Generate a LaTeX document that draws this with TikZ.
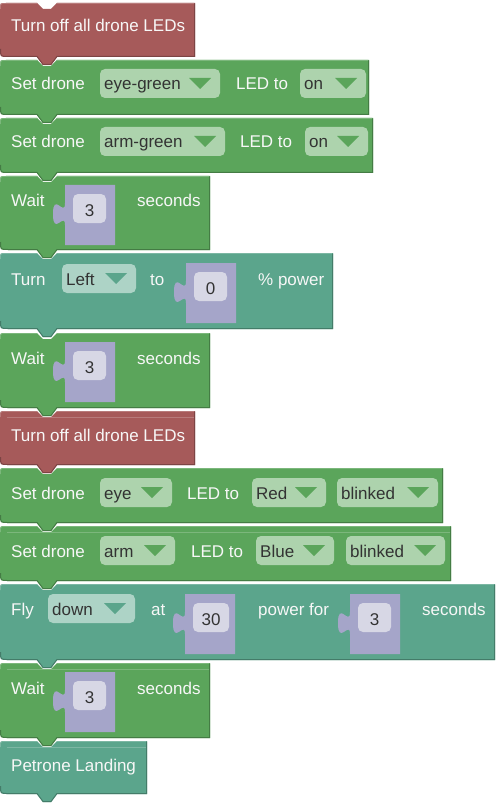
\documentclass[tikz,border=0pt]{standalone}
\usepackage{fontspec}
\newfontfamily\blkfamily{Liberation Sans}
\newcommand\blkfont{\blkfamily\fontsize{17}{20}\selectfont}

\definecolor{blkred}{HTML}{A65A5A}
\definecolor{blkgreen}{HTML}{5BA55B}
\definecolor{blkteal}{HTML}{5BA58C}
\definecolor{ddgreen}{HTML}{ADD3AD}
\definecolor{ddteal}{HTML}{ADD3C6}
\definecolor{sockcol}{HTML}{A5A5C9}
\definecolor{innercol}{HTML}{D7D7E5}
\definecolor{fieldtext}{HTML}{333333}
\definecolor{lbltext}{HTML}{F7F7F7}

\tikzset{
  lbl/.style={text=lbltext, inner sep=0pt, anchor=base west, font=\blkfont},
  fld/.style={text=fieldtext, inner sep=0pt, anchor=base west, font=\blkfont},
  num/.style={text=fieldtext, inner sep=0pt, anchor=base, font=\blkfont},
}

% statement block: #1 colour, #2 top, #3 bottom, #4 right edge
\newcommand\stmt[4]{%
  \fill[#1] (0,#2+6) .. controls (0,#2) .. (6,#2) -- (37,#2) -- (43,#2+6) -- (51,#2+6)
    -- (57,#2) -- (#4,#2) -- (#4,#3) -- (57,#3) -- (51,#3+8) -- (43,#3+8) -- (37,#3)
    -- (8,#3) .. controls (0,#3) .. (0,#3-8) -- cycle;
  \draw[#1!75!black, line width=1pt] (#4-0.5,#2+0.5) -- (#4-0.5,#3-0.5) -- (57,#3-0.5)
    -- (51,#3+7.5) -- (43,#3+7.5) -- (37,#3-0.5) -- (8,#3-0.5) .. controls (0.5,#3-0.5) .. (0.5,#3-8);
  \draw[#1!80!white, line width=0.8pt] (0.4,#2+6) .. controls (0.4,#2+0.4) .. (6,#2+0.4) -- (37,#2+0.4)
    (57,#2+0.4) -- (#4-1,#2+0.4);
}
% faint highlight line under the top edge
\newcommand\hilite[3]{\draw[#1!80!white, line width=0.6pt] (7,#2+6) -- (#3-1,#2+6);}

% dropdown: #1 name, #2 x1, #3 x2, #4 baseline, #5 text, #6 field colour, #7 arrow colour
\newcommand\dd[7]{%
  \fill[#6, rounded corners=5pt] (#2,#4-21) rectangle (#3,#4+8);
  \node[fld] (#1) at (#2+4,#4) {#5};
  \fill[#7] (#3-31,#4-12) -- (#3-9,#4-12) -- (#3-20,#4-1) -- cycle;
}
% value socket with number field: #1 name, #2 left x, #3 top, #4 field width, #5 text
\newcommand\sock[5]{%
  \fill[sockcol] (#2,#3) -- (#2+50,#3) -- (#2+50,#3+60) -- (#2,#3+60) -- (#2,#3+40)
    .. controls (#2,#3+26) and (#2-12,#3+52) .. (#2-12,#3+29)
    .. controls (#2-12,#3+6) and (#2,#3+33) .. (#2,#3+18) -- cycle;
  \fill[innercol, rounded corners=5pt] (#2+8,#3+9) rectangle (#2+8+#4,#3+38);
  \node[num] (#1) at (#2+8+#4/2,#3+31) {#5};
}

\begin{document}
\begin{tikzpicture}[x=1pt,y=-1pt]
\useasboundingbox (0,0) rectangle (497,805);

% blocks drawn from the bottom up so every tab sits over the next block
\stmt{blkteal}{741}{794}{147}
\hilite{blkteal}{741}{147}
\stmt{blkgreen}{663}{738}{210}
\hilite{blkgreen}{663}{210}
\stmt{blkteal}{584}{660}{495}
\stmt{blkgreen}{526}{581}{451}
\hilite{blkgreen}{526}{451}
\stmt{blkgreen}{468}{523}{443}
\stmt{blkred}{411}{465}{195}
\hilite{blkred}{411}{195}
\stmt{blkgreen}{333}{408}{210}
\stmt{blkteal}{253}{329}{333}
\stmt{blkgreen}{176}{250}{210}
\stmt{blkgreen}{118}{173}{373}
\stmt{blkgreen}{60}{115}{369}
\stmt{blkred}{3}{57}{195}

% 1
\node[lbl] (off1) at (11,32) {Turn off all drone LEDs};
% 2
\node[lbl] (set1) at (11,90) {Set drone};
\dd{led1}{100}{220}{90}{eye-green}{ddgreen}{blkgreen}
\node[lbl] (to1) at (236,90) {LED to};
\dd{st1}{300}{366}{90}{on}{ddgreen}{blkgreen}
% 3
\node[lbl] (set2) at (11,148) {Set drone};
\dd{led2}{100}{225}{148}{arm-green}{ddgreen}{blkgreen}
\node[lbl] (to2) at (240,148) {LED to};
\dd{st2}{305}{368}{148}{on}{ddgreen}{blkgreen}
% 4
\node[lbl] (wait1) at (11,207) {Wait};
\sock{w1}{65}{185}{33}{3}
\node[lbl] (sec1) at (137,207) {seconds};
% 5
\node[lbl] (turn) at (11,285) {Turn};
\dd{dir}{62}{136}{285}{Left}{ddteal}{blkteal}
\node[lbl] (turnto) at (150,285) {to};
\sock{pw}{186}{263}{33}{0}
\node[lbl] (pct) at (258,285) {\% power};
% 6
\node[lbl] (wait2) at (11,364) {Wait};
\sock{w2}{65}{342}{33}{3}
\node[lbl] (sec2) at (137,364) {seconds};
% 7
\node[lbl] (off2) at (11,441) {Turn off all drone LEDs};
% 8
\node[lbl] (set3) at (11,499) {Set drone};
\dd{led3}{100}{172}{499}{eye}{ddgreen}{blkgreen}
\node[lbl] (to3) at (187,499) {LED to};
\dd{col3}{252}{326}{499}{Red}{ddgreen}{blkgreen}
\dd{mode3}{337}{438}{499}{blinked}{ddgreen}{blkgreen}
% 9
\node[lbl] (set4) at (11,557) {Set drone};
\dd{led4}{100}{175}{557}{arm}{ddgreen}{blkgreen}
\node[lbl] (to4) at (191,557) {LED to};
\dd{col4}{256}{334}{557}{Blue}{ddgreen}{blkgreen}
\dd{mode4}{346}{445}{557}{blinked}{ddgreen}{blkgreen}
% 10
\node[lbl] (fly) at (11,615) {Fly};
\dd{way}{48}{135}{615}{down}{ddteal}{blkteal}
\node[lbl] (at) at (151,615) {at};
\sock{flypw}{185}{594}{36}{30}
\node[lbl] (powfor) at (258,615) {power for};
\sock{flyt}{350}{594}{33}{3}
\node[lbl] (sec3) at (422,615) {seconds};
% 11
\node[lbl] (wait3) at (11,694) {Wait};
\sock{w3}{65}{672}{33}{3}
\node[lbl] (sec4) at (137,694) {seconds};
% 12
\node[lbl] (land) at (11,771) {Petrone Landing};
\end{tikzpicture}
\end{document}
